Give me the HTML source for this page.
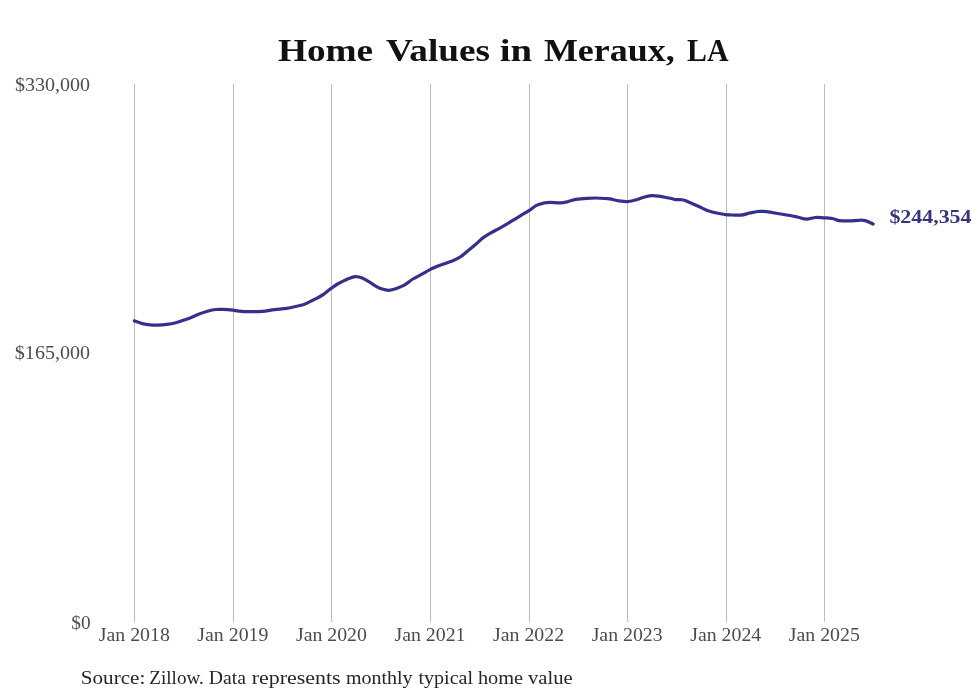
<!DOCTYPE html>
<html><head><meta charset="utf-8"><style>
html,body{margin:0;padding:0;background:#fff;width:980px;height:699px;overflow:hidden}
svg{position:absolute;left:0;top:0;display:block}
.gs{filter:grayscale(1)}
text{font-family:"Liberation Serif",serif}
</style></head><body>
<svg width="980" height="699" viewBox="0 0 980 699">
<rect width="980" height="699" fill="#fff"/>
<g stroke="#bdbdbd" stroke-width="1" shape-rendering="crispEdges">
<line x1="134.50" y1="84" x2="134.50" y2="622"/>
<line x1="233.50" y1="84" x2="233.50" y2="622"/>
<line x1="331.50" y1="84" x2="331.50" y2="622"/>
<line x1="430.50" y1="84" x2="430.50" y2="622"/>
<line x1="529.50" y1="84" x2="529.50" y2="622"/>
<line x1="627.50" y1="84" x2="627.50" y2="622"/>
<line x1="726.50" y1="84" x2="726.50" y2="622"/>
<line x1="824.50" y1="84" x2="824.50" y2="622"/>
</g>
<g class="gs" font-size="32.5" font-weight="bold" fill="#111111">
<text x="277.92" y="60.5" textLength="95.26" lengthAdjust="spacingAndGlyphs">Home</text>
<text x="385.90" y="60.5" textLength="104.21" lengthAdjust="spacingAndGlyphs">Values</text>
<text x="499.84" y="60.5" textLength="32.36" lengthAdjust="spacingAndGlyphs">in</text>
<text x="543.92" y="60.5" textLength="130.76" lengthAdjust="spacingAndGlyphs">Meraux,</text>
<text x="687.00" y="60.5" textLength="41.45" lengthAdjust="spacingAndGlyphs">LA</text>
</g>
<g class="gs" font-size="18" fill="#4c4c4c">
<text x="14.90" y="90.7" textLength="75.17" lengthAdjust="spacingAndGlyphs">$330,000</text>
<text x="14.84" y="358.7" textLength="75.22" lengthAdjust="spacingAndGlyphs">$165,000</text>
<text x="71.38" y="628.7" textLength="19.34" lengthAdjust="spacingAndGlyphs">$0</text>
<text x="134.30" y="640.5" text-anchor="middle" textLength="71" lengthAdjust="spacingAndGlyphs">Jan 2018</text>
<text x="232.87" y="640.5" text-anchor="middle" textLength="71" lengthAdjust="spacingAndGlyphs">Jan 2019</text>
<text x="331.44" y="640.5" text-anchor="middle" textLength="71" lengthAdjust="spacingAndGlyphs">Jan 2020</text>
<text x="430.01" y="640.5" text-anchor="middle" textLength="71" lengthAdjust="spacingAndGlyphs">Jan 2021</text>
<text x="528.58" y="640.5" text-anchor="middle" textLength="71" lengthAdjust="spacingAndGlyphs">Jan 2022</text>
<text x="627.15" y="640.5" text-anchor="middle" textLength="71" lengthAdjust="spacingAndGlyphs">Jan 2023</text>
<text x="725.73" y="640.5" text-anchor="middle" textLength="71" lengthAdjust="spacingAndGlyphs">Jan 2024</text>
<text x="824.30" y="640.5" text-anchor="middle" textLength="71" lengthAdjust="spacingAndGlyphs">Jan 2025</text>
</g>
<path d="M134.3,320.9 C135.6,321.3 139.5,323.0 142.2,323.6 C144.8,324.2 147.6,324.6 150.2,324.8 C152.8,325.1 154.8,325.2 157.6,325.1 C160.3,325.0 163.6,324.8 166.7,324.4 C169.8,324.0 173.1,323.4 175.9,322.7 C178.7,322.0 181.0,321.0 183.3,320.2 C185.7,319.4 187.3,319.0 190.0,318.0 C192.7,317.0 196.1,315.2 199.2,314.0 C202.3,312.8 205.7,311.8 208.4,311.0 C211.2,310.2 213.1,309.8 215.7,309.5 C218.2,309.2 220.8,309.3 223.7,309.4 C226.6,309.5 230.3,309.9 232.9,310.2 C235.5,310.5 236.2,310.9 239.0,311.1 C241.8,311.4 246.1,311.7 250.0,311.7 C253.9,311.7 258.1,311.6 262.2,311.3 C266.3,311.0 270.4,310.1 274.5,309.6 C278.6,309.1 282.6,308.9 286.7,308.3 C290.8,307.7 295.9,306.5 299.0,305.8 C302.1,305.1 303.3,304.7 305.1,304.0 C306.9,303.3 308.2,302.5 310.0,301.6 C311.8,300.7 313.9,299.9 316.1,298.7 C318.4,297.5 321.1,296.1 323.5,294.4 C325.9,292.7 328.4,290.3 330.8,288.6 C333.2,286.9 335.2,285.4 337.6,284.0 C340.1,282.6 342.6,281.2 345.5,280.0 C348.4,278.8 352.4,276.9 355.3,276.6 C358.2,276.3 360.2,277.2 362.7,278.2 C365.1,279.2 367.8,281.0 370.0,282.4 C372.2,283.8 374.1,285.2 376.1,286.3 C378.1,287.4 380.1,288.4 382.2,289.1 C384.3,289.8 386.8,290.4 389.0,290.3 C391.2,290.2 393.1,289.7 395.7,288.8 C398.2,287.9 401.4,286.7 404.3,285.1 C407.2,283.5 409.9,280.8 412.9,279.0 C415.8,277.2 419.1,275.8 422.0,274.2 C424.9,272.6 426.9,271.1 430.0,269.6 C433.1,268.1 437.1,266.5 440.7,265.1 C444.3,263.7 448.3,262.5 451.5,261.2 C454.7,259.9 457.3,258.9 460.0,257.2 C462.7,255.5 465.3,253.0 467.9,250.8 C470.5,248.7 473.3,246.5 475.8,244.3 C478.3,242.2 480.5,239.7 482.9,237.9 C485.3,236.1 487.0,235.0 490.0,233.3 C493.0,231.6 497.1,229.6 500.7,227.6 C504.3,225.6 507.9,223.4 511.5,221.2 C515.1,219.1 519.2,216.5 522.2,214.7 C525.2,212.9 526.9,212.0 529.3,210.4 C531.7,208.8 534.1,206.6 536.5,205.4 C538.9,204.2 541.4,203.6 543.6,203.1 C545.9,202.6 547.2,202.3 550.0,202.3 C552.8,202.3 557.3,203.0 560.4,202.9 C563.5,202.8 565.8,202.1 568.4,201.5 C571.0,200.9 572.7,199.9 575.7,199.4 C578.8,198.9 583.3,198.5 586.7,198.3 C590.1,198.1 592.8,198.0 595.9,198.0 C599.0,198.0 602.8,198.3 605.1,198.5 C607.5,198.7 607.6,198.5 610.0,198.9 C612.4,199.3 616.1,200.5 619.2,200.9 C622.3,201.3 625.6,201.7 628.4,201.5 C631.1,201.3 633.2,200.7 635.7,200.0 C638.2,199.3 641.1,197.9 643.7,197.2 C646.4,196.5 649.1,195.9 651.6,195.7 C654.1,195.5 655.9,195.8 659.0,196.2 C662.1,196.6 667.1,197.7 670.0,198.2 C672.9,198.8 673.9,199.3 676.1,199.6 C678.4,199.9 681.0,199.4 683.5,200.0 C686.0,200.6 688.8,202.1 691.4,203.2 C694.0,204.3 696.6,205.5 699.4,206.8 C702.2,208.1 704.9,209.7 708.0,210.8 C711.1,211.9 714.8,212.7 717.8,213.3 C720.8,214.0 724.3,214.4 726.3,214.7 C728.3,215.0 727.5,214.8 730.0,214.9 C732.5,215.0 737.6,215.4 741.0,215.1 C744.4,214.8 747.1,213.5 750.2,212.9 C753.3,212.3 756.4,211.6 759.4,211.4 C762.4,211.2 764.9,211.5 768.0,211.8 C771.1,212.2 774.1,212.9 777.8,213.5 C781.5,214.1 786.6,214.9 790.0,215.5 C793.4,216.1 795.2,216.6 798.0,217.2 C800.8,217.8 803.5,219.1 806.5,219.1 C809.5,219.1 812.7,217.7 815.7,217.5 C818.7,217.3 821.6,217.8 824.3,217.9 C826.9,218.0 829.1,217.9 831.6,218.3 C834.1,218.8 836.1,220.2 839.0,220.6 C841.9,221.0 846.0,220.9 849.2,220.9 C852.4,220.9 855.8,220.4 858.4,220.3 C861.0,220.2 862.6,220.0 865.1,220.6 C867.6,221.2 871.8,223.4 873.1,224.0" fill="none" stroke="#35308a" stroke-width="3.2" stroke-linecap="round" stroke-linejoin="round"/>
<g style="opacity:0.999" font-size="18" font-weight="bold" fill="#36347c"><text x="889.40" y="222.5" textLength="82.14" lengthAdjust="spacingAndGlyphs">$244,354</text></g>
<g class="gs" font-size="18" fill="#262626">
<text x="80.78" y="684" textLength="64.58" lengthAdjust="spacingAndGlyphs">Source:</text>
<text x="149.34" y="684" textLength="54.45" lengthAdjust="spacingAndGlyphs">Zillow.</text>
<text x="208.86" y="684" textLength="37.20" lengthAdjust="spacingAndGlyphs">Data</text>
<text x="251.84" y="684" textLength="88.76" lengthAdjust="spacingAndGlyphs">represents</text>
<text x="345.90" y="684" textLength="66.65" lengthAdjust="spacingAndGlyphs">monthly</text>
<text x="418.44" y="684" textLength="54.57" lengthAdjust="spacingAndGlyphs">typical</text>
<text x="477.90" y="684" textLength="45.25" lengthAdjust="spacingAndGlyphs">home</text>
<text x="527.98" y="684" textLength="44.60" lengthAdjust="spacingAndGlyphs">value</text>
</g>
</svg>
</body></html>
